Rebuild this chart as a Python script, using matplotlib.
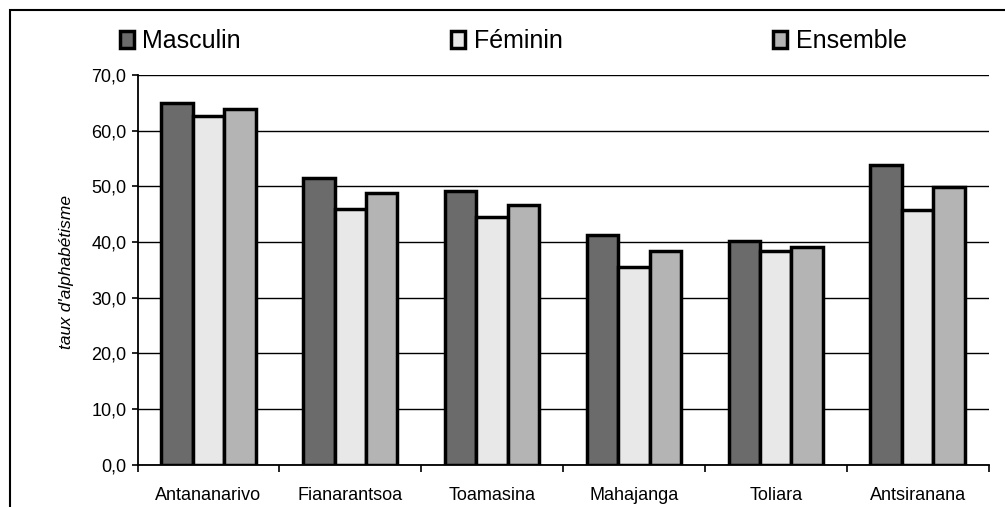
import numpy as np
import matplotlib.pyplot as plt
from matplotlib.patches import Rectangle
from matplotlib.ticker import FuncFormatter

plt.rcParams['font.family'] = ['Liberation Sans', 'DejaVu Sans']

# data
regions = ["Antananarivo", "Fianarantsoa", "Toamasina", "Mahajanga", "Toliara", "Antsiranana"]
masculin = [64.9, 51.5, 49.1, 41.3, 40.2, 53.8]
feminin = [62.7, 46.0, 44.5, 35.5, 38.3, 45.8]
ensemble = [63.9, 48.8, 46.6, 38.3, 39.1, 49.8]
series = ["Masculin", "Féminin", "Ensemble"]
colors = ["#6b6b6b", "#e8e8e8", "#b4b4b4"]

fig = plt.figure(figsize=(10.05, 5.07), dpi=100)
ax = fig.add_axes([137.5/1005, 1-464.7/507, 851/1005, 389.7/507])

x = np.arange(len(regions))
w = 0.222
for i, vals in enumerate([masculin, feminin, ensemble]):
    ax.bar(x + (i-1)*w, vals, w, color=colors[i], edgecolor='black',
           linewidth=2.5, label=series[i], zorder=3)

ax.set_xlim(-0.5, len(regions)-0.5)
ax.set_ylim(0, 70)
ax.set_yticks(np.arange(0, 71, 10))
ax.yaxis.set_major_formatter(FuncFormatter(lambda v, p: ("%.1f" % v).replace('.', ',')))
ax.yaxis.grid(True, color='black', linewidth=1)
ax.set_axisbelow(True)

# ticks between categories, labels at the centres
ax.set_xticks(np.arange(-0.5, len(regions), 1))
ax.set_xticklabels([])
ax.set_xticks(x, minor=True)
ax.set_xticklabels(regions, minor=True)
ax.tick_params(axis='x', which='major', direction='out', length=5, width=1.2)
ax.tick_params(axis='x', which='minor', length=0, pad=16, labelsize=13)
ax.tick_params(axis='y', direction='out', length=4, width=1.2, pad=4, labelsize=13)

for s in ['top', 'right']:
    ax.spines[s].set_visible(False)
for s in ['left', 'bottom']:
    ax.spines[s].set_linewidth(1.3)

fig.text(67/1005, 1-272/507, "taux d'alphabétisme", rotation=90, style='italic',
         fontsize=12.5, ha='center', va='center')

ax.legend(loc='center left', bbox_to_anchor=(119.5/1005, 1-41/507),
          bbox_transform=fig.transFigure, ncol=3, frameon=False, fontsize=18,
          handlelength=0.56, handleheight=0.68, handletextpad=0.36,
          columnspacing=8.4, borderpad=0, borderaxespad=0)

# outer chart frame, runs off right and bottom
fig.patches.append(Rectangle((10/1005, -0.2), 1.2, 1-10/507+0.2, transform=fig.transFigure,
                             fill=False, edgecolor='black', linewidth=1.5))

fig.savefig("out.png", dpi=100)
